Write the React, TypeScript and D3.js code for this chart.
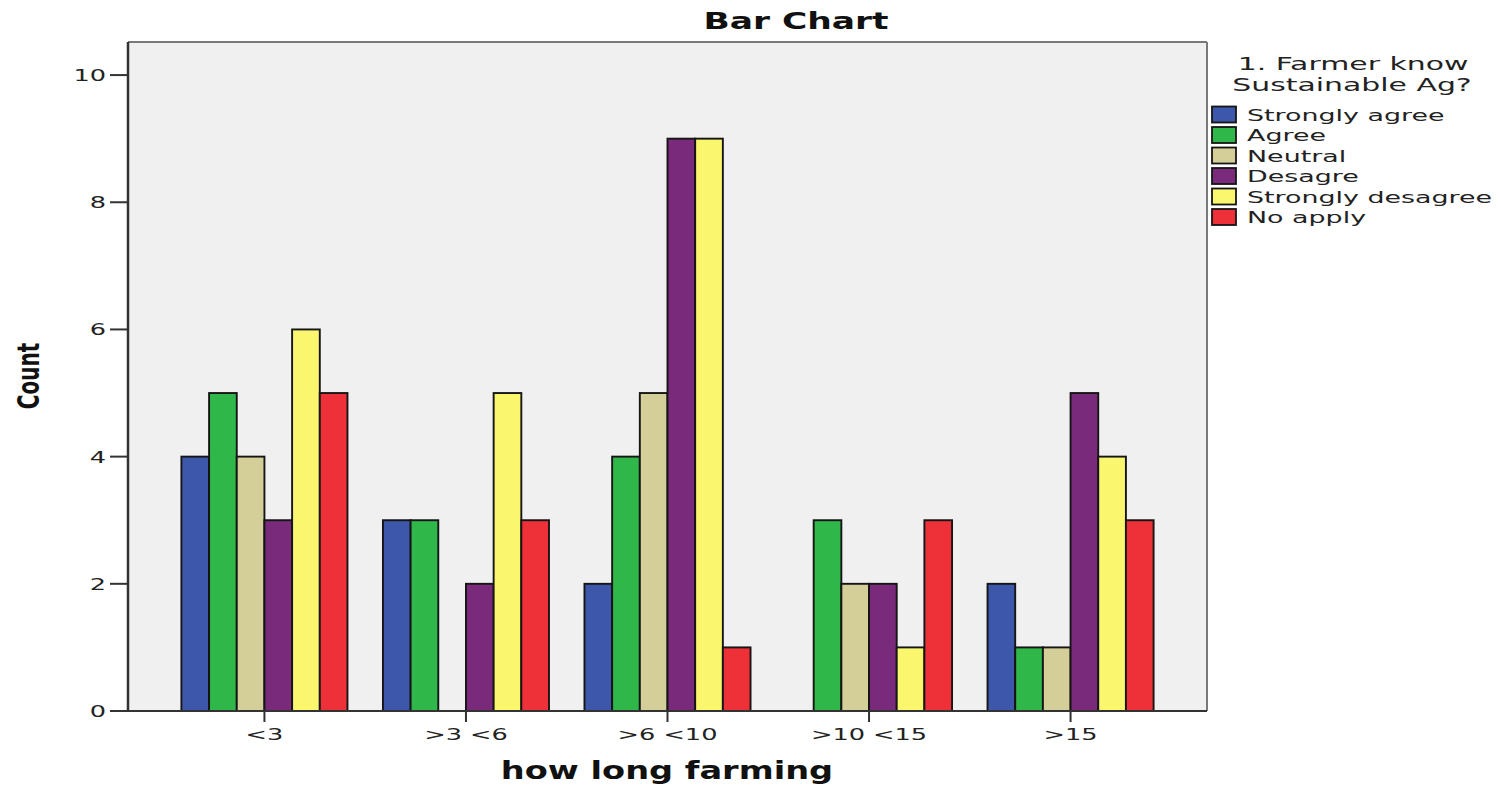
import React from "react";
import * as d3 from "d3";

const categories = ["<3", ">3 <6", ">6 <10", ">10 <15", ">15"];
const seriesNames = ["Strongly agree", "Agree", "Neutral", "Desagre", "Strongly desagree", "No apply"];
const seriesColors = ["#3d57ab", "#2fb74a", "#d4cf98", "#7a2a7b", "#faf76f", "#ee3039"];
const stronglyAgree = [4, 3, 2, 0, 2];
const agree = [5, 3, 4, 3, 1];
const neutral = [4, 0, 5, 2, 1];
const desagre = [3, 2, 9, 2, 5];
const stronglyDesagree = [6, 5, 9, 1, 4];
const noApply = [5, 3, 1, 3, 3];
const seriesValues = [stronglyAgree, agree, neutral, desagre, stronglyDesagree, noApply];
const yTicks = [0, 2, 4, 6, 8, 10];

const W = 1501;
const H = 787;
const left = 128;
const right = 1207;
const top = 42;
const bottom = 711;
const SX = 1.6;
const FONT = "DejaVu Sans, sans-serif";
const TXT = "#222";

export default function App() {
  const x = d3.scaleBand<string>().domain(categories).range([left, right]).paddingInner(0.176).paddingOuter(0.265);
  const x1 = d3.scaleBand<string>().domain(seriesNames).range([0, x.bandwidth()]);
  const y = d3.scaleLinear().domain([0, 10.52]).range([bottom, top]);

  const stretched = (tx: number, ty: number, s: number = SX) => `translate(${tx},${ty}) scale(${s},1)`;

  return (
    <svg width={W} height={H} style={{ position: "absolute", left: 0, top: 0, background: "#fff" }}>
      <rect x={left} y={top} width={right - left} height={bottom - top} fill="#f0f0f0" />
      {categories.map((c, ci) =>
        seriesNames.map((s, si) => {
          const v = seriesValues[si][ci];
          if (!v) return null;
          const bx = (x(c) as number) + (x1(s) as number);
          return (
            <rect key={c + s} x={bx} y={y(v)} width={x1.bandwidth()} height={bottom - y(v)}
              fill={seriesColors[si]} stroke="#151515" strokeWidth={1.9} />
          );
        })
      )}
      {/* frame */}
      <line x1={left} x2={right} y1={top} y2={top} stroke="#7a7a7a" strokeWidth={2} />
      <line x1={right} x2={right} y1={top} y2={bottom} stroke="#7a7a7a" strokeWidth={2} />
      <line x1={left} x2={right} y1={bottom} y2={bottom} stroke="#333" strokeWidth={2.2} />
      <line x1={left} x2={left} y1={top} y2={bottom + 1} stroke="#333" strokeWidth={2.5} />
      {/* y ticks */}
      {yTicks.map((t) => (
        <g key={t}>
          <line x1={left - 18} x2={left} y1={y(t)} y2={y(t)} stroke="#333" strokeWidth={2} />
          <text transform={stretched(left - 22, y(t) + 6)} textAnchor="end" fontFamily={FONT} fontSize={16} fill={TXT}>{t}</text>
        </g>
      ))}
      {/* x ticks */}
      {categories.map((c) => {
        const cx = (x(c) as number) + x.bandwidth() / 2;
        return (
          <g key={c}>
            <line x1={cx} x2={cx} y1={bottom} y2={bottom + 11} stroke="#333" strokeWidth={2} />
            <text transform={stretched(cx, 740)} textAnchor="middle" fontFamily={FONT} fontSize={16} fill={TXT}>{c}</text>
          </g>
        );
      })}
      {/* titles */}
      <text transform={stretched(796, 29, 1.5)} textAnchor="middle" fontFamily={FONT} fontWeight="bold" fontSize={23} fill="#111">Bar Chart</text>
      <text transform={stretched(667, 779, 1.4)} textAnchor="middle" fontFamily={FONT} fontWeight="bold" fontSize={24} fill="#111">how long farming</text>
      <text transform={`translate(39,376) rotate(-90) scale(1,1.55)`} textAnchor="middle" fontFamily={FONT} fontWeight="bold" fontSize={20} fill="#111">Count</text>
      {/* legend */}
      <text transform={stretched(1353, 70, 1.66)} textAnchor="middle" fontFamily={FONT} fontSize={18} fill={TXT}>1. Farmer know</text>
      <text transform={stretched(1352, 91, 1.66)} textAnchor="middle" fontFamily={FONT} fontSize={18} fill={TXT}>Sustainable Ag?</text>
      {seriesNames.map((s, i) => {
        const cy = 114.5 + i * 20.5;
        return (
          <g key={s}>
            <rect x={1212} y={cy - 8} width={24} height={16} fill={seriesColors[i]} stroke="#151515" strokeWidth={1.8} />
            <text transform={stretched(1247, cy + 6, 1.65)} fontFamily={FONT} fontSize={16.3} fill={TXT}>{s}</text>
          </g>
        );
      })}
    </svg>
  );
}
